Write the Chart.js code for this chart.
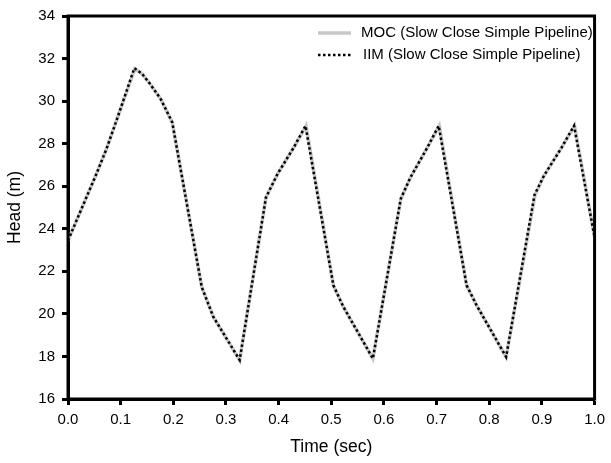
<!DOCTYPE html>
<html>
<head>
<meta charset="utf-8">
<title>Head vs Time</title>
<script src="https://cdn.jsdelivr.net/npm/chart.js@4"></script>
<style>
    html, body { margin: 0; padding: 0; background: #fff; }
    #grafico { display: block; }
</style>
</head>
<body>
<canvas id="grafico" width="611" height="463"></canvas>
<script>
// datos (tiempo en s, altura en m)
const tiempoMOC = [0.000, 0.054, 0.073, 0.092, 0.127, 0.140, 0.154, 0.176, 0.198, 0.254, 0.276, 0.326,
    0.376, 0.398, 0.429, 0.452, 0.504, 0.523, 0.579,
    0.632, 0.650, 0.682, 0.705, 0.757, 0.776, 0.832,
    0.887, 0.904, 0.937, 0.962, 1.000];
const alturaMOC = [23.45, 26.58, 27.75, 29.08, 31.52, 31.30, 30.87, 30.10, 29.00, 21.26, 19.86, 17.83,
    25.48, 26.58, 27.83, 28.84, 21.34, 20.33, 17.90,
    25.41, 26.40, 27.80, 28.84, 21.34, 20.40, 17.98,
    25.60, 26.50, 27.80, 28.84, 23.60];

const tiempoIIM = [0.000, 0.054, 0.073, 0.092, 0.126, 0.140, 0.154, 0.176, 0.198, 0.254, 0.276, 0.326,
    0.376, 0.398, 0.429, 0.451, 0.504, 0.523, 0.579,
    0.632, 0.650, 0.682, 0.704, 0.757, 0.776, 0.832,
    0.886, 0.904, 0.937, 0.961, 1.000];
const alturaIIM = [23.45, 26.58, 27.75, 29.08, 31.55, 31.30, 30.87, 30.10, 29.00, 21.26, 19.86, 17.83,
    25.48, 26.58, 27.83, 28.84, 21.34, 20.33, 17.90,
    25.41, 26.40, 27.80, 28.84, 21.34, 20.40, 17.98,
    25.60, 26.50, 27.80, 28.84, 23.60];

const ticksX = [0.0, 0.1, 0.2, 0.3, 0.4, 0.5, 0.6, 0.7, 0.8, 0.9, 1.0];
const ticksY = [16, 18, 20, 22, 24, 26, 28, 30, 32, 34];

const etiquetas = ['MOC (Slow Close Simple Pipeline)', 'IIM (Slow Close Simple Pipeline)'];

const fuente = '"Liberation Sans", Arial, sans-serif';
const gris = '#c8c8c8';

function aPuntos(xs, ys) {
    return xs.map(function (x, i) { return { x: x, y: ys[i] }; });
}

// marco completo y leyenda dentro del area del grafico
const marcoYLeyenda = {
    id: 'marcoYLeyenda',
    afterDraw: function (chart) {
        const ctx = chart.ctx;
        const a = chart.chartArea;
        ctx.save();
        ctx.strokeStyle = '#000';
        ctx.lineWidth = 3;
        ctx.strokeRect(a.left, a.top, a.right - a.left, a.bottom - a.top);

        // leyenda
        ctx.lineWidth = 3.5;
        ctx.strokeStyle = gris;
        ctx.beginPath();
        ctx.moveTo(318, 33);
        ctx.lineTo(351, 33);
        ctx.stroke();

        ctx.lineWidth = 2.5;
        ctx.strokeStyle = '#000';
        ctx.setLineDash([2.5, 2.5]);
        ctx.beginPath();
        ctx.moveTo(318, 55);
        ctx.lineTo(351, 55);
        ctx.stroke();
        ctx.setLineDash([]);

        ctx.fillStyle = '#000';
        ctx.font = '15px ' + fuente;
        ctx.textAlign = 'left';
        ctx.textBaseline = 'middle';
        ctx.fillText(etiquetas[0], 361, 33);
        ctx.fillText(etiquetas[1], 363, 55);
        ctx.restore();
    }
};

new Chart(document.getElementById('grafico'), {
    type: 'line',
    data: {
        datasets: [{
            label: etiquetas[0],
            data: aPuntos(tiempoMOC, alturaMOC),
            borderColor: gris,
            borderWidth: 3.5,
            pointRadius: 0,
            tension: 0,
            fill: false,
            order: 2
        }, {
            label: etiquetas[1],
            data: aPuntos(tiempoIIM, alturaIIM),
            borderColor: '#000',
            borderWidth: 2.5,
            borderDash: [2.5, 2.5],
            pointRadius: 0,
            tension: 0,
            fill: false,
            order: 1
        }]
    },
    options: {
        responsive: false,
        animation: false,
        layout: { padding: { top: 15, right: 11, left: 0, bottom: 0 } },
        plugins: {
            legend: { display: false },
            tooltip: { enabled: false }
        },
        scales: {
            x: {
                type: 'linear',
                min: 0,
                max: 1,
                afterFit: function (s) { s.height = 64; },
                afterBuildTicks: function (s) { s.ticks = ticksX.map(function (v) { return { value: v }; }); },
                ticks: {
                    color: '#000',
                    font: { size: 15, family: fuente },
                    padding: 6,
                    maxRotation: 0,
                    callback: function (v) { return v.toFixed(1); }
                },
                grid: {
                    drawOnChartArea: false,
                    drawTicks: true,
                    tickLength: 6,
                    tickWidth: 3,
                    tickColor: '#000'
                },
                border: { display: true, color: '#000', width: 3 },
                title: {
                    display: true,
                    text: 'Time (sec)',
                    color: '#000',
                    font: { size: 17.5, family: fuente },
                    padding: { top: 0, bottom: 5 }
                }
            },
            y: {
                min: 16,
                max: 34,
                afterFit: function (s) { s.width = 68; },
                afterBuildTicks: function (s) { s.ticks = ticksY.map(function (v) { return { value: v }; }); },
                ticks: {
                    color: '#000',
                    font: { size: 15, family: fuente },
                    padding: 7
                },
                grid: {
                    drawOnChartArea: false,
                    drawTicks: true,
                    tickLength: 6,
                    tickWidth: 3,
                    tickColor: '#000'
                },
                border: { display: true, color: '#000', width: 3 },
                title: {
                    display: true,
                    text: 'Head (m)',
                    color: '#000',
                    font: { size: 17.5, family: fuente },
                    padding: { top: 5, bottom: 0 }
                }
            }
        }
    },
    plugins: [marcoYLeyenda]
});
</script>
</body>
</html>
